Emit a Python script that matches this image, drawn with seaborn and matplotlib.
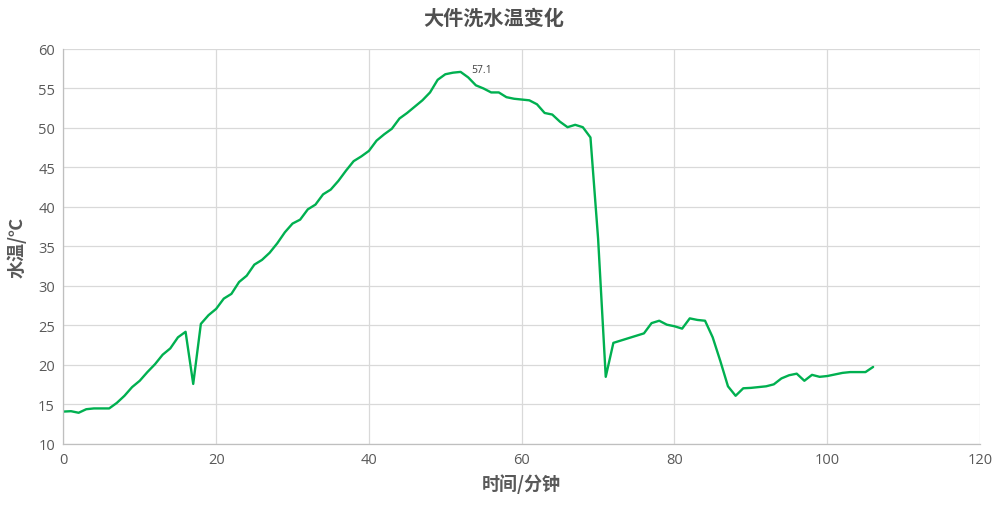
import matplotlib
matplotlib.use("Agg")
import matplotlib.pyplot as plt
import pandas as pd
import seaborn as sns

# minutes and water temperature
minutes = list(range(0, 107))
temps = [14.1, 14.15, 13.95, 14.4, 14.5, 14.5, 14.5, 15.2, 16.1, 17.2,
         18.0, 19.1, 20.1, 21.3, 22.1, 23.5, 24.2, 17.6, 25.2, 26.3,
         27.1, 28.4, 29.0, 30.5, 31.3, 32.7, 33.3, 34.2, 35.4, 36.8,
         37.9, 38.4, 39.7, 40.3, 41.6, 42.2, 43.3, 44.6, 45.8, 46.4,
         47.1, 48.4, 49.2, 49.9, 51.2, 51.9, 52.7, 53.5, 54.5, 56.1,
         56.8, 57.0, 57.1, 56.4, 55.4, 55.0, 54.5, 54.5, 53.9, 53.7,
         53.6, 53.5, 53.0, 51.9, 51.7, 50.8, 50.1, 50.4, 50.1, 48.8,
         36.0, 18.5, 22.8, 23.1, 23.4, 23.7, 24.0, 25.3, 25.6, 25.1,
         24.9, 24.6, 25.9, 25.7, 25.6, 23.5, 20.5, 17.3, 16.1, 17.05,
         17.1, 17.2, 17.3, 17.55, 18.3, 18.7, 18.9, 18.0, 18.75, 18.5,
         18.6, 18.8, 19.0, 19.1, 19.1, 19.1, 19.75]
peak_minute = 52
peak_label = "57.1"

title = "大件洗水温变化"
xlabel = "时间/分钟"
ylabel = "水温/℃"

df = pd.DataFrame({"minute": minutes, "temp": temps})

sns.set_theme(style="white")
plt.rcParams["font.family"] = ["Noto Sans CJK SC", "DejaVu Sans"]

fig = plt.figure(figsize=(9.96, 5.10), dpi=100)
ax = fig.add_axes([0.0636, 0.1275, 0.9204, 0.7745])

sns.lineplot(data=df, x="minute", y="temp", ax=ax, color="#00B050", linewidth=1.7)

ax.set_xlim(0, 120)
ax.set_ylim(10, 60)
ax.set_xticks(range(0, 121, 20))
ax.set_yticks(range(10, 61, 5))
ax.grid(True, color="#D9D9D9", linewidth=0.9)
ax.set_axisbelow(True)
for side in ["top", "right"]:
    ax.spines[side].set_visible(False)
for side in ["left", "bottom"]:
    ax.spines[side].set_color("#BFBFBF")
    ax.spines[side].set_linewidth(0.9)
ax.tick_params(length=0, labelsize=10.5, labelcolor="#595959", pad=6)
for lbl in ax.get_xticklabels() + ax.get_yticklabels():
    lbl.set_family(["Open Sans", "DejaVu Sans"])

ax.set_xlabel(xlabel, fontsize=13, fontweight="bold", color="#595959", labelpad=4)
ax.set_ylabel(ylabel, fontsize=13, fontweight="bold", color="#595959", labelpad=8)
fig.suptitle(title, fontsize=14.5, color="#505050", fontweight="bold", x=0.496, y=0.985)

ax.annotate(peak_label, xy=(peak_minute, df.loc[df.minute == peak_minute, "temp"].iloc[0]),
            xytext=(8, 2), textcoords="offset points", va="center", ha="left",
            fontsize=7.5, color="#404040", family=["Open Sans", "DejaVu Sans"])

fig.savefig("out.png", dpi=100)
